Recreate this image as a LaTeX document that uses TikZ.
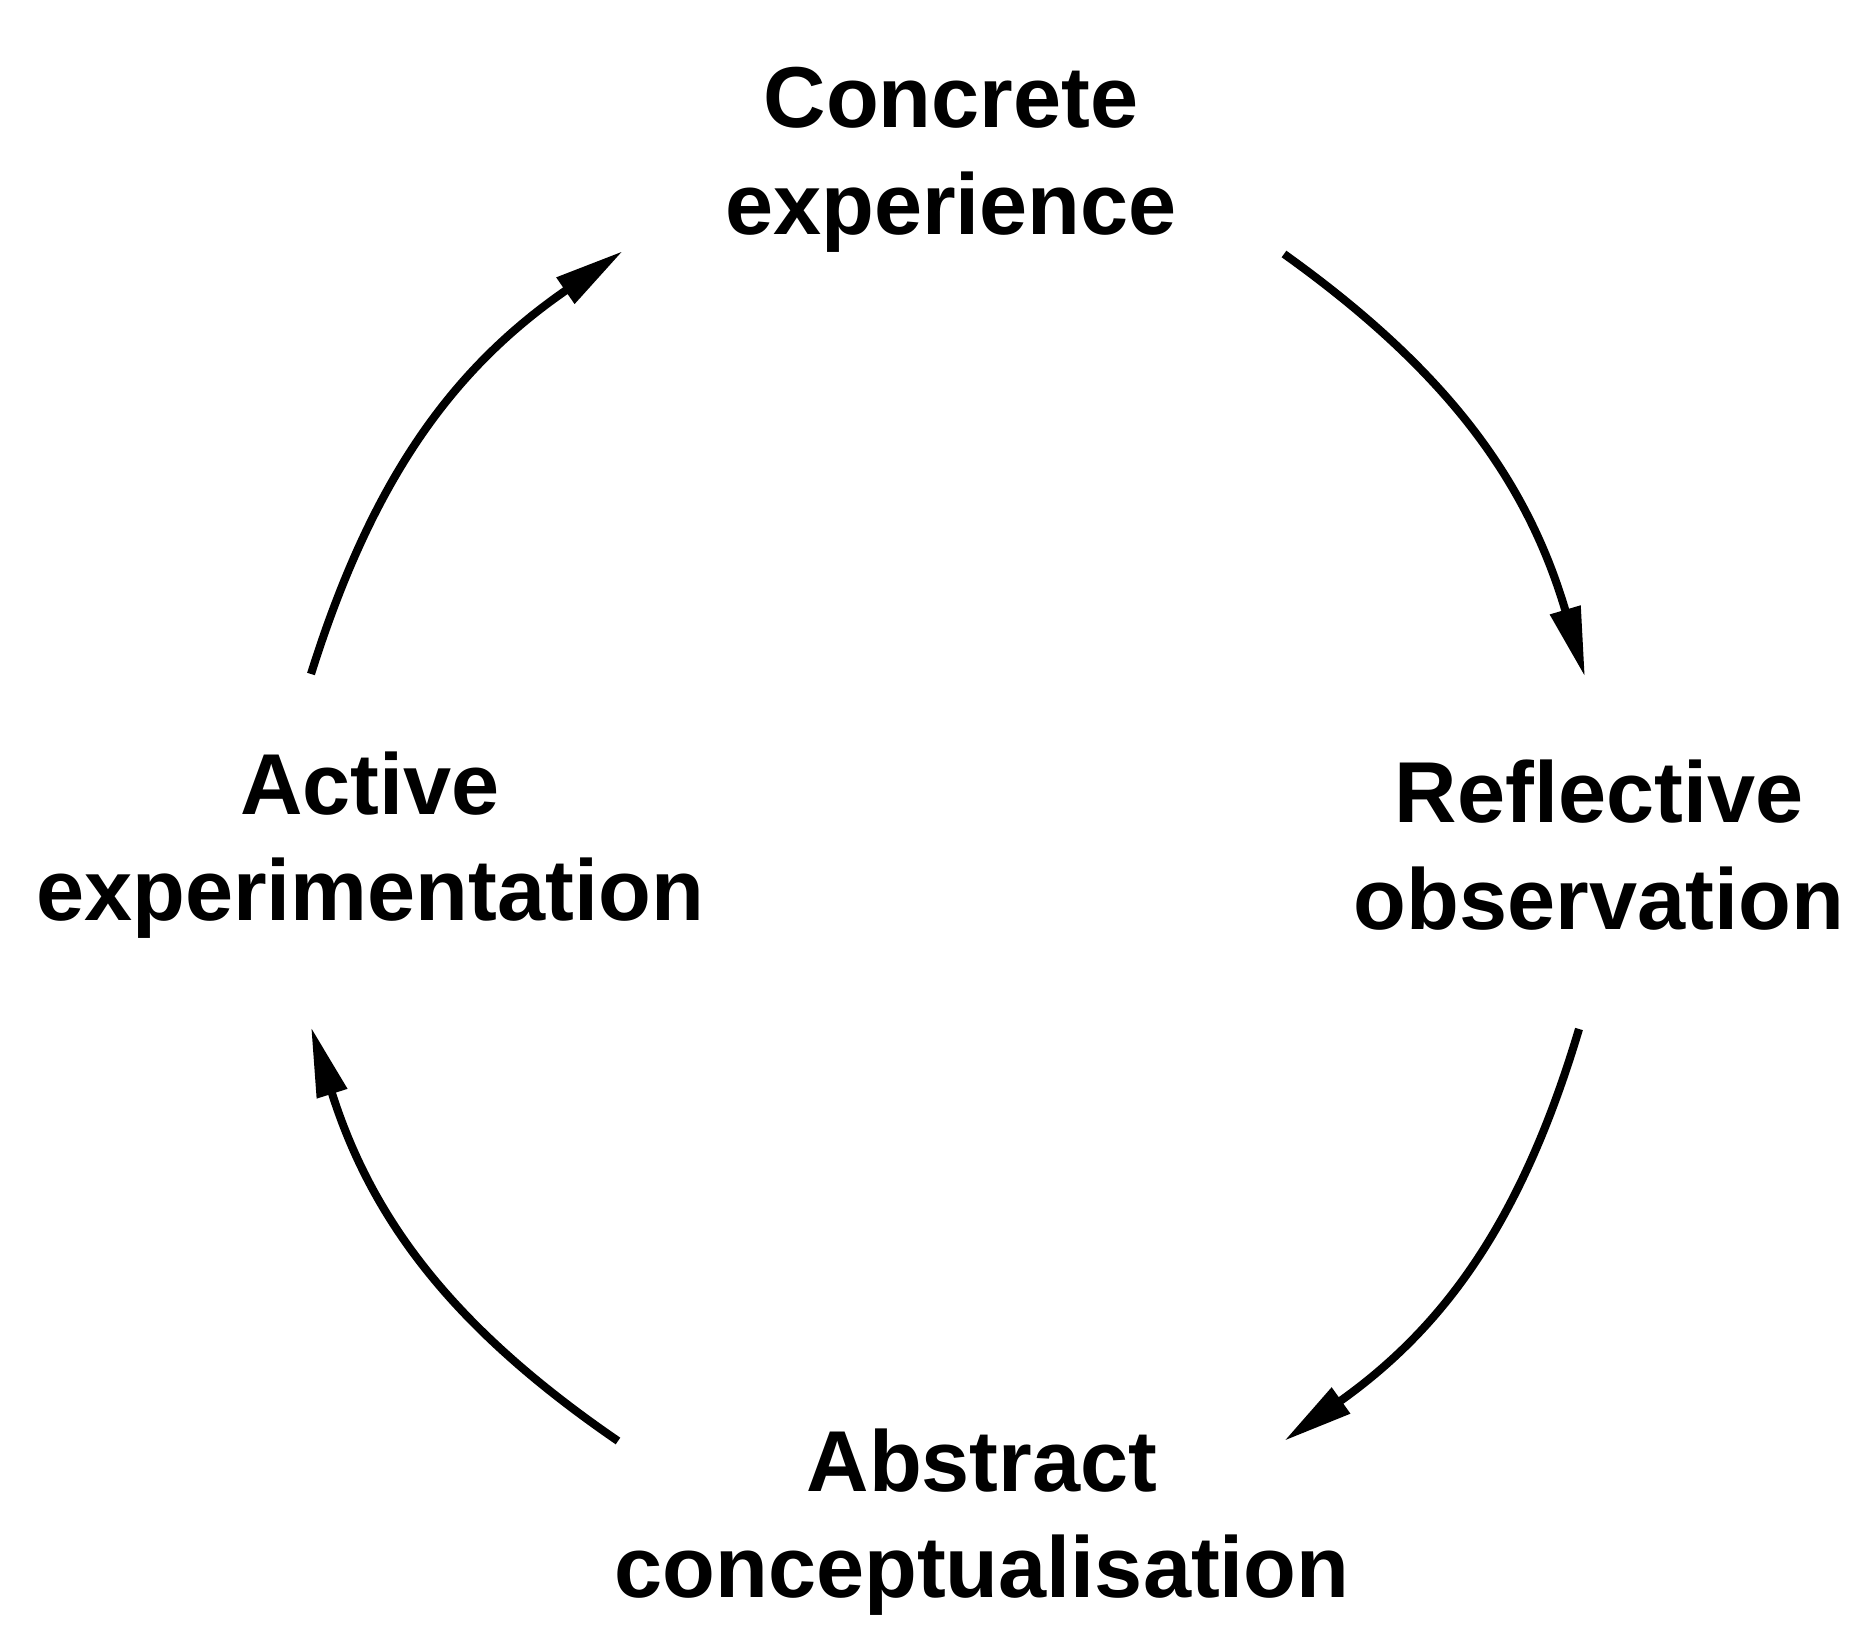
\documentclass[tikz,border=0pt]{standalone}
\usepackage{fontspec}
\setmainfont{Liberation Sans}
\usepackage{tikz}
\usetikzlibrary{arrows.meta}

\begin{document}
\begin{tikzpicture}[
		stage/.style={align=center, inner sep=0pt, font=\fontsize{24.6}{30.3}\selectfont\bfseries},
		cyc/.style={-{Triangle[length=0.7cm, width=0.3cm]}, line width=2.3pt, black, bend left=19}
	]
			\useasboundingbox (0,0) rectangle (18.55,-16.26);

			\node[stage] (ce) at (9.51,-1.60) {Concrete\\experience};
			\node[stage] (ro) at (15.99,-8.45) {Reflective\\observation};
			\node[stage] (ac) at (9.82,-15.22) {Abstract\\conceptualisation};
			\node[stage] (ae) at (3.70,-8.45) {Active\\experimentation};

			%% arrow ends
			\coordinate (ce-out) at (12.84,-2.54);
			\coordinate (ro-in) at (15.85,-6.77);
			\coordinate (ro-out) at (15.79,-10.29);
			\coordinate (ac-in) at (12.84,-14.41);
			\coordinate (ac-out) at (6.18,-14.41);
			\coordinate (ae-in) at (3.11,-10.27);
			\coordinate (ae-out) at (3.11,-6.74);
			\coordinate (ce-in) at (6.23,-2.51);

			%% lines
			\draw[cyc] (ce-out) to (ro-in);
			\draw[cyc] (ro-out) to (ac-in);
			\draw[cyc] (ac-out) to (ae-in);
			\draw[cyc] (ae-out) to (ce-in);
		\end{tikzpicture}
\end{document}
